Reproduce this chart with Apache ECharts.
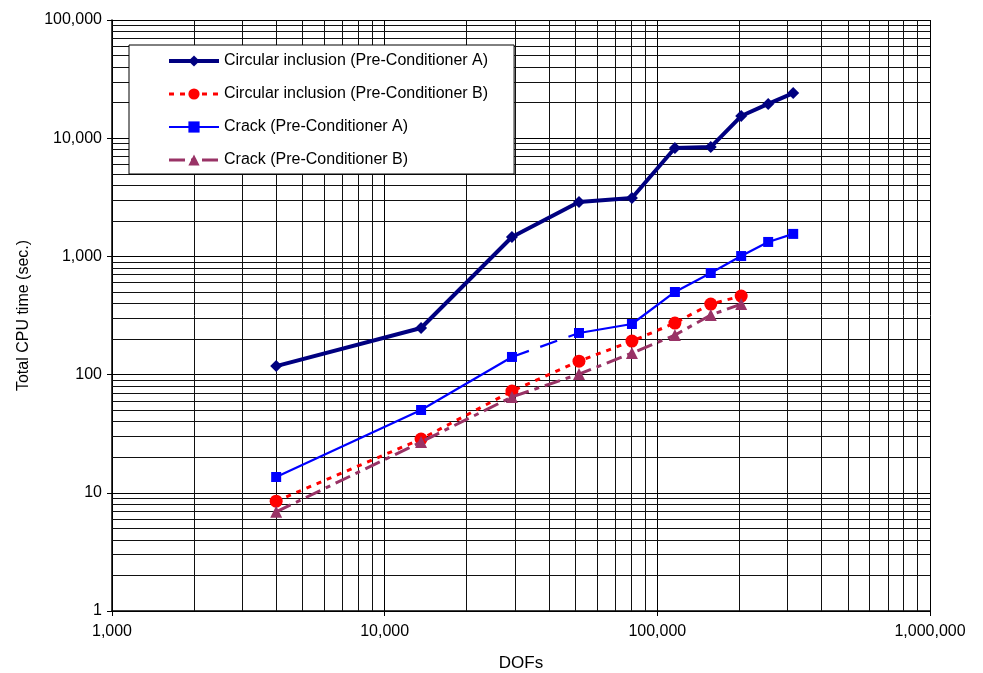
<!DOCTYPE html>
<html>
<head>
<meta charset="utf-8">
<script src="https://cdn.jsdelivr.net/npm/echarts@6/dist/echarts.min.js"></script>
<style>
  html, body { margin: 0; padding: 0; background: #fff; }
  #chart { width: 983px; height: 673px; }
</style>
</head>
<body>
<div id="chart"></div>
<script>
// DOFs (x) and CPU times (y)
const dofs = [4000, 13600, 29300, 51600, 80700, 116000, 157000, 203000, 255000, 315000];
const circA = [118, 248, 1460, 2880, 3120, 8260, 8420, 15400, 19500, 24100];
const circB = [8.5, 28.5, 72.6, 130, 192, 273, 395, 462];
const crackA = [13.6, 50.2, 141, 225, 268, 500, 724, 1007, 1325, 1550];
const crackB = [6.9, 26.9, 64.7, 101, 152, 216, 319, 395];

const names = [
    "Circular inclusion (Pre-Conditioner A)",
    "Circular inclusion (Pre-Conditioner B)",
    "Crack (Pre-Conditioner A)",
    "Crack (Pre-Conditioner B)"
];

// minor gridline positions (2..9 in each decade)
const xMinor = [];
for (let d = 1000; d < 1000000; d *= 10) {
    for (let k = 2; k <= 9; k++) xMinor.push(k * d);
}
const yMinor = [];
for (let d = 1; d < 100000; d *= 10) {
    for (let k = 2; k <= 9; k++) yMinor.push(k * d);
}

const pairs = (ys, from, to) => ys.slice(from, to).map((y, i) => [dofs[from + i], y]);

const fmt = (v) => String(Math.round(v)).replace(/\B(?=(\d{3})+(?!\d))/g, ",");

const font = "Liberation Sans, Arial, sans-serif";

const getOption = () => {
    return {
        animation: false,
        backgroundColor: "#fff",
        textStyle: { fontFamily: font },
        grid: { left: 112, right: 53, top: 20, bottom: 62, outerBoundsMode: "none" },
        legend: {
            data: [
                { name: names[0], lineStyle: { width: 4 } },
                { name: names[1], lineStyle: { width: 3 } },
                { name: names[2], lineStyle: { width: 2.2 } },
                { name: names[3], lineStyle: { width: 3 } }
            ],
            orient: "vertical",
            left: 129,
            top: 45,
            z: 10,
            padding: [8, 26, 6, 38],
            itemWidth: 50,
            itemHeight: 14,
            itemGap: 17,
            backgroundColor: "#fff",
            borderColor: "#000",
            borderWidth: 1,
            textStyle: { fontSize: 16, color: "#000", fontFamily: font }
        },
        xAxis: {
            type: "log",
            logBase: 10,
            min: 1000,
            max: 1000000,
            name: "DOFs",
            nameLocation: "middle",
            nameGap: 44,
            nameTextStyle: { fontSize: 17, color: "#000" },
            axisLine: { lineStyle: { color: "#000", width: 1.5 } },
            axisTick: { show: true, length: 5, lineStyle: { color: "#000" } },
            axisLabel: { fontSize: 16, color: "#000", formatter: fmt, margin: 13 },
            splitLine: { show: true, lineStyle: { color: "#000", width: 1 } }
        },
        yAxis: {
            type: "log",
            logBase: 10,
            min: 1,
            max: 100000,
            name: "Total CPU time (sec.)",
            nameLocation: "middle",
            nameGap: 80,
            nameTextStyle: { fontSize: 16, color: "#000" },
            axisLine: { lineStyle: { color: "#000", width: 1.5 } },
            axisTick: { show: true, length: 5, lineStyle: { color: "#000" } },
            axisLabel: { fontSize: 16, color: "#000", formatter: fmt, margin: 10 },
            splitLine: { show: true, lineStyle: { color: "#000", width: 1 } }
        },
        series: [
            {
                name: "grid",
                type: "line",
                data: [[1000, 1]],
                showSymbol: false,
                z: 1,
                silent: true,
                markLine: {
                    silent: true,
                    z: 1,
                    symbol: "none",
                    animation: false,
                    label: { show: false },
                    lineStyle: { color: "#111", width: 1, type: "solid" },
                    data: xMinor.map((v) => ({ xAxis: v })).concat(yMinor.map((v) => ({ yAxis: v })))
                }
            },
            {
                name: names[0],
                type: "line",
                data: pairs(circA, 0, circA.length),
                color: "#000080",
                symbol: "diamond",
                symbolSize: 12,
                lineStyle: { width: 4, color: "#000080" },
                z: 5
            },
            {
                name: names[1],
                type: "line",
                data: pairs(circB, 0, circB.length),
                color: "#ff0000",
                symbol: "circle",
                symbolSize: 13,
                lineStyle: { width: 3, type: [5, 6], color: "#ff0000" },
                z: 5
            },
            {
                name: names[2],
                type: "line",
                data: pairs(crackA, 0, 3),
                color: "#0000ff",
                symbol: "rect",
                symbolSize: 10,
                lineStyle: { width: 2.2, color: "#0000ff" },
                z: 5
            },
            {
                name: names[2],
                type: "line",
                data: pairs(crackA, 2, 4),
                color: "#0000ff",
                showSymbol: false,
                lineStyle: { width: 2.2, type: [18, 12], color: "#0000ff" },
                z: 5
            },
            {
                name: names[2],
                type: "line",
                data: pairs(crackA, 3, crackA.length),
                color: "#0000ff",
                symbol: "rect",
                symbolSize: 10,
                lineStyle: { width: 2.2, color: "#0000ff" },
                z: 5
            },
            {
                name: names[3],
                type: "line",
                data: pairs(crackB, 0, crackB.length),
                color: "#993366",
                symbol: "triangle",
                symbolSize: 12,
                lineStyle: { width: 3, type: [16, 6, 5, 6], color: "#993366" },
                z: 6
            }
        ]
    };
};

const initChart = () => {
    const chart = echarts.init(document.getElementById("chart"));
    chart.setOption(getOption());
};

window.addEventListener("load", () => {
    initChart();
});
</script>
</body>
</html>
